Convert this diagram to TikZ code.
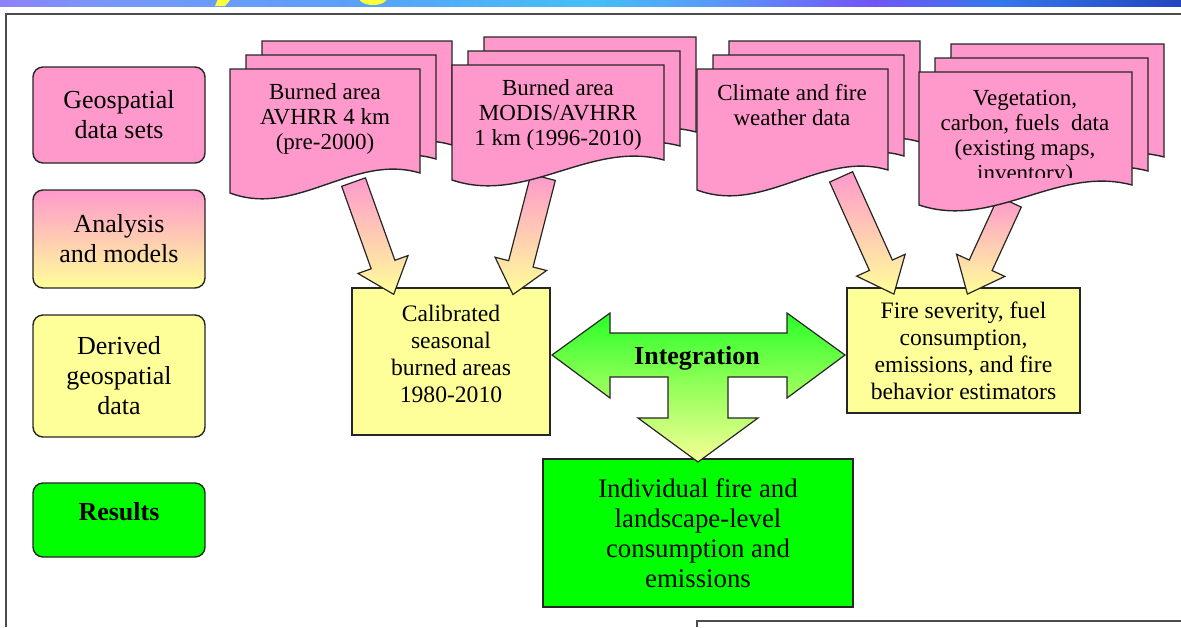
\documentclass[tikz,border=0pt]{standalone}
\usepackage{fontspec}
\setmainfont{Liberation Serif}
\usepackage{tikz}
\usetikzlibrary{calc,positioning,shapes.arrows}

\definecolor{docpink}{RGB}{255,153,204}
\definecolor{boxyellow}{RGB}{255,255,153}
\definecolor{resgreen}{RGB}{0,255,0}
\definecolor{intgreen}{RGB}{40,255,40}
\definecolor{intmid}{RGB}{150,255,90}
\definecolor{intyellow}{RGB}{245,255,150}
\definecolor{titleyellow}{RGB}{255,255,60}

\pgfdeclarehorizontalshading{titlebar}{100bp}{%
  rgb(0bp)=(0.55,0.51,0.98); rgb(25bp)=(0.55,0.51,0.98);
  rgb(29.2bp)=(0.47,0.59,0.98); rgb(39.8bp)=(0.35,0.63,0.98);
  rgb(50bp)=(0.27,0.75,0.96); rgb(55.5bp)=(0.35,0.59,0.98);
  rgb(61.8bp)=(0.45,0.33,0.96); rgb(67.3bp)=(0.2,0.47,0.92);
  rgb(75bp)=(0.14,0.27,0.75); rgb(100bp)=(0.14,0.27,0.75)}

% one page of a stack: x, y (top left), width, height of left side
\newcommand\docpage[4]{%
  \draw[docpage] (#1,#2) -- (#1+#3,#2) -- (#1+#3,#2+#4-20)
    .. controls (#1+0.65*#3,#2+#4-40) and (#1+0.35*#3,#2+#4+25) .. (#1,#2+#4) -- cycle;}
% three pages, back to front
\newcommand\docstack[4]{%
  \docpage{#1+32}{#2-28}{#3}{#4}
  \docpage{#1+16}{#2-14}{#3}{#4}
  \docpage{#1}{#2}{#3}{#4}}
% block arrow from one coordinate to another
\newcommand\fatarrow[2]{%
  \path let \p1=($(#2)-(#1)$), \n1={atan2(\y1,\x1)}, \n2={veclen(\x1,\y1)} in
    node[fatarrow, minimum height=\n2, rotate=\n1] (arr-#1) at ($(#1)!0.5!(#2)$) {};}

\begin{document}
\begin{tikzpicture}[x=0.5pt,y=-0.5pt,
  docpage/.style={draw=black!85, line width=0.7pt, fill=docpink},
  doctext/.style={align=center, anchor=north, inner sep=0pt, font=\fontsize{11.5}{12.5}\selectfont},
  legend/.style={draw=black!85, line width=0.7pt, rounded corners=5pt, minimum width=86pt,
    align=center, font=\fontsize{13}{15}\selectfont},
  ybox/.style={draw=black!85, line width=0.7pt, fill=boxyellow, align=center,
    font=\fontsize{11.8}{13.5}\selectfont},
  boxtext/.style={align=center, font=\fontsize{11.8}{13.5}\selectfont},
  fatarrow/.style={single arrow, draw=black!85, line width=0.6pt, inner xsep=0pt,
    inner ysep=6pt, single arrow head extend=7pt, single arrow tip angle=80,
    top color=docpink, bottom color=boxyellow},
  intarrow/.style={draw=black!85, line width=0.6pt, top color=intgreen,
    bottom color=intyellow, middle color=intmid},
  frame/.style={draw=black!70, line width=1pt}]

\useasboundingbox (0,0) rectangle (1181,627);

% title bar
\shade[shading=titlebar] (0,0) rectangle (1181,6);
\begin{scope}
  \clip (0,0) rectangle (1181,6);
  \fill[titleyellow] (218,-1) -- (231,-1) -- (225,6) -- (215,6) -- cycle;
  \fill[titleyellow] (373,-2) ellipse [x radius=14, y radius=7];
\end{scope}

% frames
\draw[frame] (6,627) -- (6,14) -- (1181,14);
\draw[frame] (697,627) -- (697,621) -- (1181,621);

% legend
\node[legend, fill=docpink, minimum height=48pt] (geo) at (119,115) {Geospatial\\data sets};
\node[legend, top color=docpink, bottom color=boxyellow, minimum height=49pt] (ana) at (119,239) {Analysis\\and models};
\node[legend, fill=boxyellow, minimum height=61pt] (der) at (119,376) {Derived\\geospatial\\data};
\node[legend, fill=resgreen, minimum height=37pt,
  label={[yshift=4pt, font=\fontsize{13}{15}\selectfont\bfseries]center:Results}] (res) at (119,520) {};

% derived boxes
\node[ybox, minimum width=99pt, minimum height=73.5pt,
  label={[boxtext, yshift=4pt]center:{Calibrated\\seasonal\\burned areas\\1980-2010}}] (cal) at (451,361.5) {};
\node[ybox, minimum width=116.5pt, minimum height=62.5pt] (fire) at (963.5,350.5)
  {Fire severity, fuel\\consumption,\\emissions, and fire\\behavior estimators};
\node[ybox, fill=resgreen, minimum width=155pt, minimum height=74pt,
  font=\fontsize{13.4}{15}\selectfont] (ind) at (698,533)
  {Individual fire and\\landscape-level\\consumption and\\emissions};

% integration arrow
\coordinate (int) at (698,355);
\draw[intarrow, shift={(int)}] (-146,0) -- (-88,-42) -- (-88,-22) -- (89,-22) -- (89,-42)
  -- (147,0) -- (89,43) -- (89,22) -- (30,22) -- (30,63) -- (60,63) -- (0,107)
  -- (-60,63) -- (-30,63) -- (-30,22) -- (-88,22) -- (-88,43) -- cycle;
\node[font=\fontsize{13}{15}\selectfont\bfseries] (inttext) at (697,358) {Integration};

% arrows from data sets
\coordinate (a1) at (351,175);
\coordinate (a1e) at ($(cal.north west)!0.2!(cal.north east)$);
\coordinate (a2) at (545,170);
\coordinate (a2e) at ($(cal.north west)!0.82!(cal.north east)$);
\coordinate (a3) at (838,170);
\coordinate (a3e) at ($(fire.north west)!0.19!(fire.north east)$);
\coordinate (a4) at (1013,195);
\coordinate (a4e) at ($(fire.north west)!0.53!(fire.north east)$);
\fatarrow{a1}{a1e}
\fatarrow{a2}{a2e}
\fatarrow{a3}{a3e}
\fatarrow{a4}{a4e}

% data sets
\docstack{230}{69}{190}{124}
\node[doctext] (avhrr) at (325,83.5) {Burned area\\AVHRR 4 km\\(pre-2000)};
\docstack{452}{65}{212}{115}
\node[doctext] (modis) at (558,79) {Burned area\\MODIS/AVHRR\\1 km (1996-2010)};
\docstack{697}{69}{191}{121}
\node[doctext] (clim) at (792,84) {Climate and fire\\weather data};
\docstack{919}{72}{213}{133}
\begin{scope}
  \clip (919,72) rectangle (1132,177);
  \node[doctext] (veg) at (1025,90) {Vegetation,\\carbon, fuels\ \ data\\(existing maps,\\inventory)};
\end{scope}

\end{tikzpicture}
\end{document}
